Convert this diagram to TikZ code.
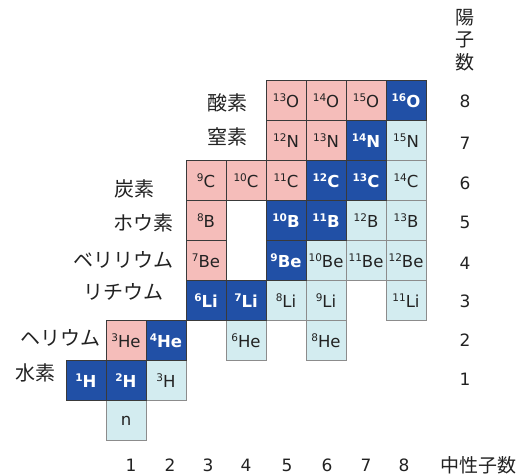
\documentclass[tikz,border=0pt]{standalone}
\usepackage{fontspec}
\setmainfont{DejaVu Sans}
\newfontfamily\cjk{Noto Sans CJK JP}
\definecolor{pinkfill}{HTML}{F5BDBA}
\definecolor{darkfill}{HTML}{2150A6}
\definecolor{lightfill}{HTML}{D3ECF0}
\definecolor{cellline}{HTML}{3A3A3A}
\definecolor{lightline}{HTML}{8C8C8C}
\definecolor{txt}{HTML}{222222}
\newcommand\isot[2]{\raisebox{0.36em}{\fontsize{10.5}{10.5}\selectfont #1}#2}
\tikzset{
  cell/.style={draw=cellline, line width=0.8pt, minimum width=40pt, minimum height=40pt, inner sep=0pt, font=\fontsize{16.5}{16.5}\selectfont, text=txt},
  pinkc/.style={cell, fill=pinkfill},
  darkc/.style={cell, fill=darkfill, text=white, font=\fontsize{16.5}{16.5}\selectfont\bfseries},
  lightc/.style={cell, fill=lightfill, draw=lightline},
  elem/.style={anchor=east, font=\cjk\fontsize{20}{20}\selectfont, inner sep=0pt, text=txt},
  axisnum/.style={font=\fontsize{17}{17}\selectfont, inner sep=0pt, text=txt},
  axislabel/.style={font=\cjk\fontsize{19}{22.5}\selectfont, inner sep=0pt, text=txt, align=center}
}
\begin{document}
\begin{tikzpicture}[x=1pt,y=-1pt]
\useasboundingbox (0,0) rectangle (520,476);
% light cells
\node[lightc] (n)    at (126,420.5) {n};
\node[lightc] (H3)   at (166,380.5) {\isot{3}{H}};
\node[lightc] (He6)  at (246,340.5) {\isot{6}{He}};
\node[lightc] (He8)  at (326,340.5) {\isot{8}{He}};
\node[lightc] (Li8)  at (286,300.5) {\isot{8}{Li}};
\node[lightc] (Li9)  at (326,300.5) {\isot{9}{Li}};
\node[lightc] (Li11) at (406,300.5) {\isot{11}{Li}};
\node[lightc] (Be10) at (326,260.5) {\isot{10}{Be}};
\node[lightc] (Be11) at (366,260.5) {\isot{11}{Be}};
\node[lightc] (Be12) at (406,260.5) {\isot{12}{Be}};
\node[lightc] (B12)  at (366,220.5) {\isot{12}{B}};
\node[lightc] (B13)  at (406,220.5) {\isot{13}{B}};
\node[lightc] (C14)  at (406,180.5) {\isot{14}{C}};
\node[lightc] (N15)  at (406,140.5) {\isot{15}{N}};
% pink cells
\node[pinkc] (He3)  at (126,340.5) {\isot{3}{He}};
\node[pinkc] (Be7)  at (206,260.5) {\isot{7}{Be}};
\node[pinkc] (B8)   at (206,220.5) {\isot{8}{B}};
\node[pinkc] (C9)   at (206,180.5) {\isot{9}{C}};
\node[pinkc] (C10)  at (246,180.5) {\isot{10}{C}};
\node[pinkc] (C11)  at (286,180.5) {\isot{11}{C}};
\node[pinkc] (N12)  at (286,140.5) {\isot{12}{N}};
\node[pinkc] (N13)  at (326,140.5) {\isot{13}{N}};
\node[pinkc] (O13)  at (286,100.5) {\isot{13}{O}};
\node[pinkc] (O14)  at (326,100.5) {\isot{14}{O}};
\node[pinkc] (O15)  at (366,100.5) {\isot{15}{O}};
% stable (dark) cells
\node[darkc] (H1)   at (86,380.5)  {\isot{1}{H}};
\node[darkc] (H2)   at (126,380.5) {\isot{2}{H}};
\node[darkc] (He4)  at (166,340.5) {\isot{4}{He}};
\node[darkc] (Li6)  at (206,300.5) {\isot{6}{Li}};
\node[darkc] (Li7)  at (246,300.5) {\isot{7}{Li}};
\node[darkc] (Be9)  at (286,260.5) {\isot{9}{Be}};
\node[darkc] (B10)  at (286,220.5) {\isot{10}{B}};
\node[darkc] (B11)  at (326,220.5) {\isot{11}{B}};
\node[darkc] (C12)  at (326,180.5) {\isot{12}{C}};
\node[darkc] (C13)  at (366,180.5) {\isot{13}{C}};
\node[darkc] (N14)  at (366,140.5) {\isot{14}{N}};
\node[darkc] (O16)  at (406,100.5) {\isot{16}{O}};
% element names
\node[elem] (lO)  at (248,103) {酸素};
\node[elem] (lN)  at (248,137) {窒素};
\node[elem] (lC)  at (155,189) {炭素};
\node[elem] (lB)  at (174,223) {ホウ素};
\node[elem] (lBe) at (174,260) {ベリリウム};
\node[elem] (lLi) at (164,292) {リチウム};
\node[elem] (lHe) at (101,338) {ヘリウム};
\node[elem] (lH)  at (56,373)  {水素};
% proton numbers
\node[axislabel] (zlab) at (465,40) {陽\\子\\数};
\node[axisnum] (z8) at (465,101) {8};
\node[axisnum] (z7) at (465,143) {7};
\node[axisnum] (z6) at (465,183) {6};
\node[axisnum] (z5) at (465,222) {5};
\node[axisnum] (z4) at (465,263) {4};
\node[axisnum] (z3) at (465,301) {3};
\node[axisnum] (z2) at (465,340) {2};
\node[axisnum] (z1) at (465,379) {1};
% neutron numbers
\node[axisnum] (n1) at (131,465) {1};
\node[axisnum] (n2) at (170,465) {2};
\node[axisnum] (n3) at (208,465) {3};
\node[axisnum] (n4) at (246,465) {4};
\node[axisnum] (n5) at (287,465) {5};
\node[axisnum] (n6) at (327,465) {6};
\node[axisnum] (n7) at (366,465) {7};
\node[axisnum] (n8) at (404,465) {8};
\node[axislabel] (nlab) at (478,465) {中性子数};
\end{tikzpicture}
\end{document}
